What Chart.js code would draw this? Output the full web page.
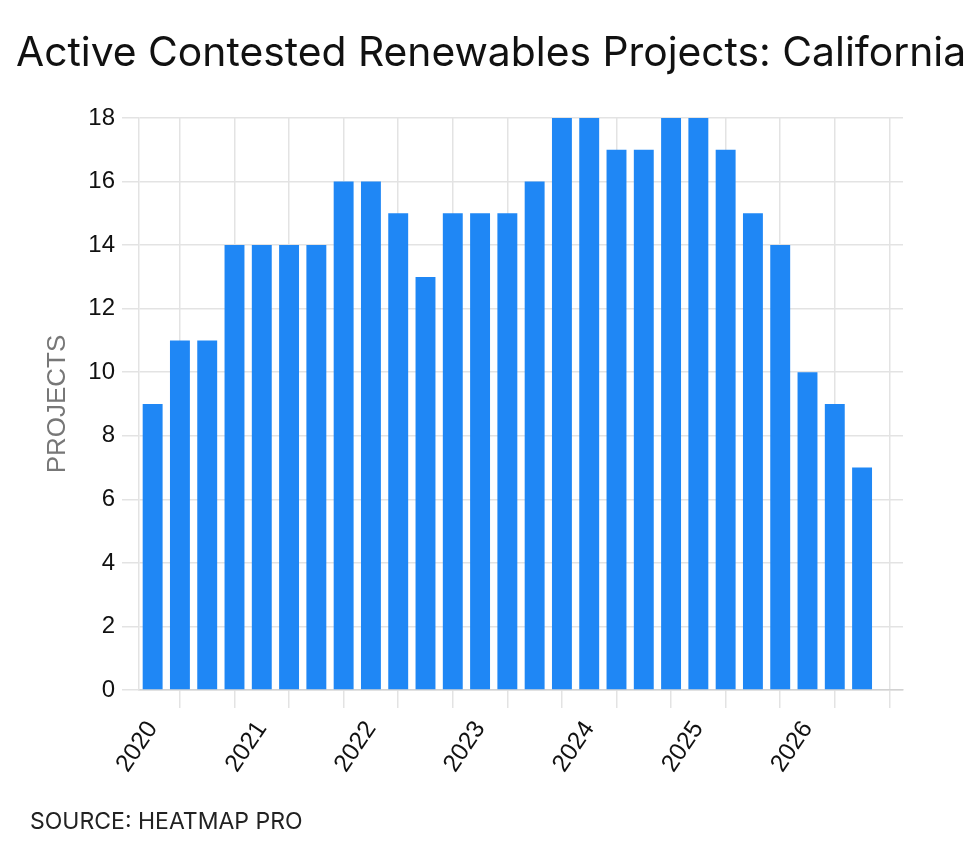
<!DOCTYPE html>
<html><head><meta charset="utf-8">
<script src="https://cdn.jsdelivr.net/npm/chart.js@4"></script>
<style>
html,body{margin:0;padding:0;background:#fff;width:980px;height:863px;overflow:hidden}
#wrap{position:relative;width:980px;height:863px}
#title{position:absolute;left:16px;top:31px;font-family:Inter,sans-serif;font-size:40.8px;color:#111;white-space:nowrap;line-height:1}
#source{position:absolute;left:30px;top:810px;font-family:Inter,sans-serif;font-size:23px;color:#222;white-space:nowrap;line-height:1}
canvas{position:absolute;left:0;top:0}
</style></head><body>
<div id="wrap">
<canvas id="c" width="980" height="863"></canvas>
<div id="title">Active Contested Renewables Projects: California</div>
<div id="source">SOURCE: HEATMAP PRO</div>
</div>
<script>
const quarters = [
  '2020 Q1','2020 Q2','2020 Q3','2020 Q4',
  '2021 Q1','2021 Q2','2021 Q3','2021 Q4',
  '2022 Q1','2022 Q2','2022 Q3','2022 Q4',
  '2023 Q1','2023 Q2','2023 Q3','2023 Q4',
  '2024 Q1','2024 Q2','2024 Q3','2024 Q4',
  '2025 Q1','2025 Q2','2025 Q3','2025 Q4',
  '2026 Q1','2026 Q2','2026 Q3','2026 Q4'
];
const projects = [
  9, 11, 11, 14,
  14, 14, 14, 16,
  16, 15, 13, 15,
  15, 15, 16, 18,
  18, 17, 17, 18,
  18, 17, 15, 14,
  10, 9, 7, null
];
const yearLabels = ['2020','2021','2022','2023','2024','2025','2026'];
const yTicks = [0, 2, 4, 6, 8, 10, 12, 14, 16, 18];

const gridCol = '#e3e3e3';

new Chart(document.getElementById('c'), {
  type: 'bar',
  data: {
    labels: quarters,
    datasets: [{
      label: 'Projects',
      data: projects,
      backgroundColor: '#1f87f5',
      borderWidth: 0,
      categoryPercentage: 1,
      barPercentage: 0.73
    }]
  },
  options: {
    responsive: false,
    animation: false,
    layout: { padding: { left: 0, top: 118, right: 77, bottom: 0 } },
    plugins: { legend: { display: false }, tooltip: { enabled: false } },
    scales: {
      x: {
        afterFit: s => { s.height = 173; },
        grid: {
          offset: false,
          color: ctx => (ctx.index % 2 === 1 ? gridCol : 'rgba(0,0,0,0)'),
          lineWidth: 1.5,
          tickLength: 18
        },
        border: { color: '#d2d2d2', width: 1.5 },
        ticks: {
          autoSkip: false,
          minRotation: 56,
          maxRotation: 56,
          padding: 8,
          color: '#111',
          font: { family: 'Liberation Sans', size: 24.5 },
          callback: (v, i) => (i % 4 === 0 ? yearLabels[i / 4] : '')
        }
      },
      y: {
        min: 0,
        max: 18,
        afterFit: s => { s.width = 139; },
        afterBuildTicks: s => { s.ticks = yTicks.map(v => ({ value: v })); },
        grid: { color: gridCol, lineWidth: 1.5, tickLength: 17 },
        border: { color: gridCol, width: 1.5 },
        ticks: {
          padding: 7,
          color: '#111',
          font: { family: 'Liberation Sans', size: 24 }
        },
        title: {
          display: true,
          text: 'PROJECTS',
          color: '#777',
          font: { family: 'Liberation Sans', size: 26 },
          padding: { top: 42, bottom: 0 }
        }
      }
    }
  }
});
</script>
</body></html>
